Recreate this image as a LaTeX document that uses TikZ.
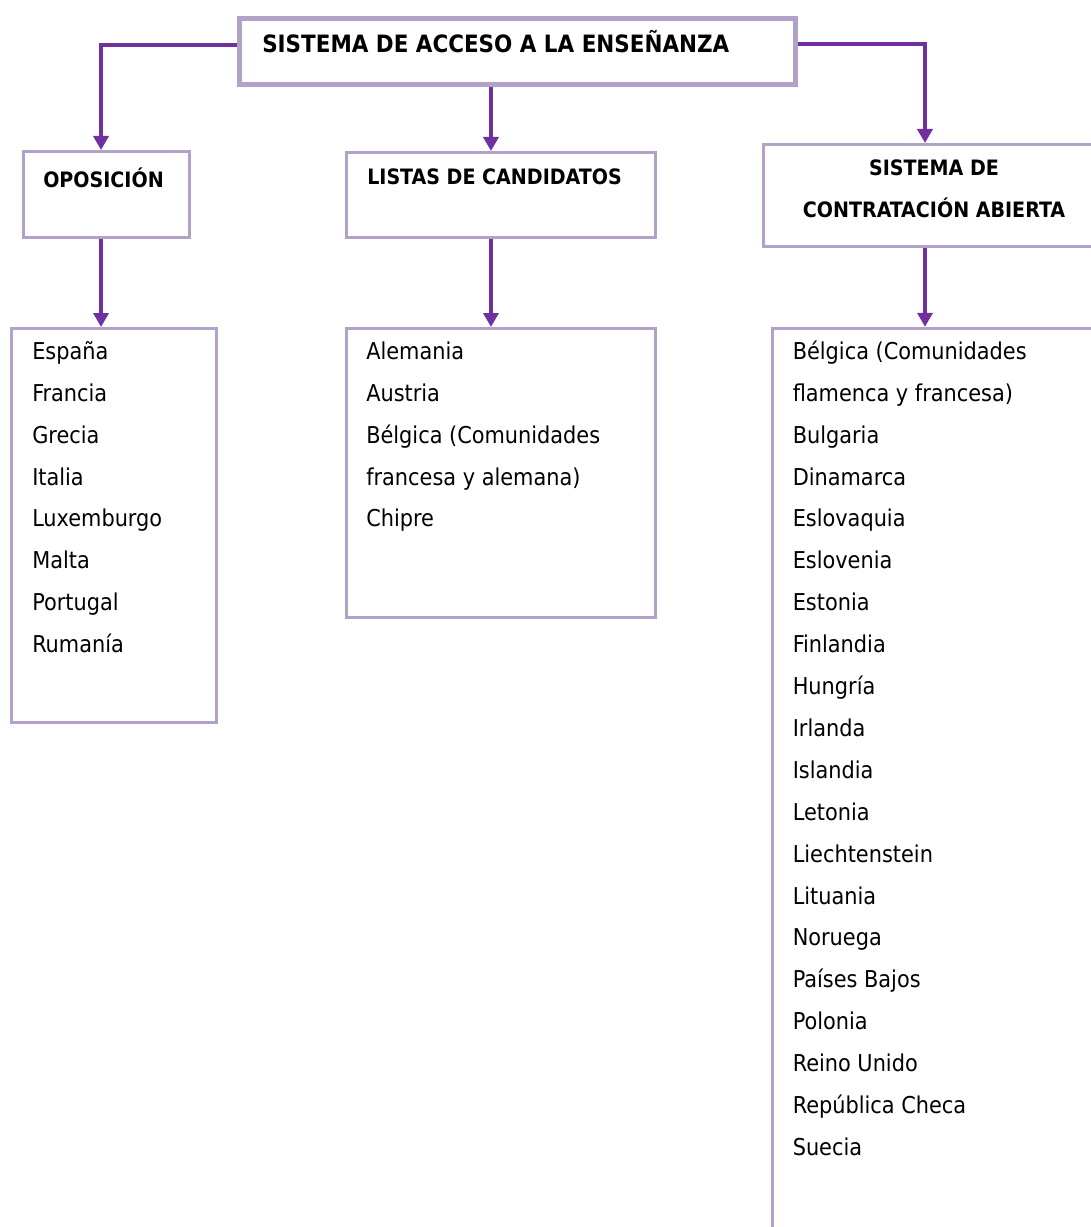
\documentclass[tikz,border=0pt]{standalone}
\usepackage{fontspec}
\setmainfont{DejaVu Sans Condensed}
\usetikzlibrary{arrows.meta}
\definecolor{boxline}{HTML}{B3A2C7}
\definecolor{linkline}{HTML}{7030A0}
\tikzset{
  box/.style={draw=boxline, line width=2.25pt, rectangle, inner sep=0pt, fill=white},
  topbox/.style={box, line width=3.75pt},
  conn/.style={draw=linkline, line width=3pt, -{Triangle[width=11.25pt,length=10.5pt]}},
  conntail/.style={draw=linkline, line width=3pt},
  titletext/.style={anchor=base west, inner sep=0pt, font=\fontsize{17.9pt}{20pt}\selectfont\bfseries},
  headtext/.style={anchor=base west, inner sep=0pt, font=\fontsize{15.9pt}{18pt}\selectfont\bfseries},
  headctext/.style={anchor=base, inner sep=0pt, font=\fontsize{15.9pt}{18pt}\selectfont\bfseries},
  itemtext/.style={anchor=base west, inner sep=0pt, font=\fontsize{17.4pt}{20pt}\selectfont}
}
\begin{document}
\begin{tikzpicture}[x=0.75pt, y=-0.75pt]
\useasboundingbox (0,0) rectangle (1091,1227);
\clip (0,0) rectangle (1091,1227);

% boxes
\node[topbox, minimum width=417pt, minimum height=49.5pt] (top) at (517.5,51.5) {};
\node[box, minimum width=124.5pt, minimum height=64.5pt] (opos) at (106.5,194.5) {};
\node[box, minimum width=231.75pt, minimum height=63.75pt] (listas) at (501,195) {};
\node[box, minimum width=255.75pt, minimum height=76.5pt] (contrat) at (934,195.5) {};
\node[box, minimum width=153.75pt, minimum height=295.5pt] (list1) at (114,525.5) {};
\node[box, minimum width=231.75pt, minimum height=216.75pt] (list2) at (501,473) {};
\node[box, minimum width=245pt, minimum height=700pt] (list3) at (936,795) {};

% box titles
\node[titletext] (toptxt) at (262,53) {SISTEMA DE ACCESO A LA ENSEÑANZA};
\node[headtext] (opostxt) at (43,187) {OPOSICIÓN};
\node[headtext] (listastxt) at (367,185) {LISTAS DE CANDIDATOS};
\node[headctext] (contrattxtA) at (934,175.5) {SISTEMA DE};
\node[headctext] (contrattxtB) at (934,217) {CONTRATACIÓN ABIERTA};

% connectors
\coordinate (tl) at ([yshift=4.9pt]top.west);
\coordinate (tr) at ([yshift=5.6pt]top.east);
\coordinate (tm) at ([xshift=-19.9pt]top.south);
\coordinate (ol) at ([xshift=-4.1pt]opos.north);
\coordinate (cr) at ([xshift=-6.75pt]contrat.north);
\draw[conn] (tl) -| (ol);
\draw[conn] (tr) -| (cr);
\draw[conn] (tm) -- (tm |- listas.north);
\draw[conn] (ol |- opos.south) -- (ol |- list1.north);
\draw[conn] (tm |- listas.south) -- (tm |- list2.north);
\draw[conn] (cr |- contrat.south) -- (cr |- list3.north);

% country lists
\foreach \t [count=\i from 0] in {España, Francia, Grecia, Italia, Luxemburgo, Malta, Portugal, Rumanía}
  \node[itemtext] (a\i) at (32, 359.3+41.9*\i) {\t};
\foreach \t [count=\i from 0] in {Alemania, Austria, {Bélgica (Comunidades}, {francesa y alemana)}, Chipre}
  \node[itemtext] (b\i) at (366, 359.3+41.9*\i) {\t};
\foreach \t [count=\i from 0] in {{Bélgica (Comunidades}, {flamenca y francesa)}, Bulgaria, Dinamarca, Eslovaquia, Eslovenia, Estonia, Finlandia, Hungría, Irlanda, Islandia, Letonia, Liechtenstein, Lituania, Noruega, {Países Bajos}, Polonia, {Reino Unido}, {República Checa}, Suecia}
  \node[itemtext] (c\i) at (792.5, 359.3+41.9*\i) {\t};
\end{tikzpicture}
\end{document}
